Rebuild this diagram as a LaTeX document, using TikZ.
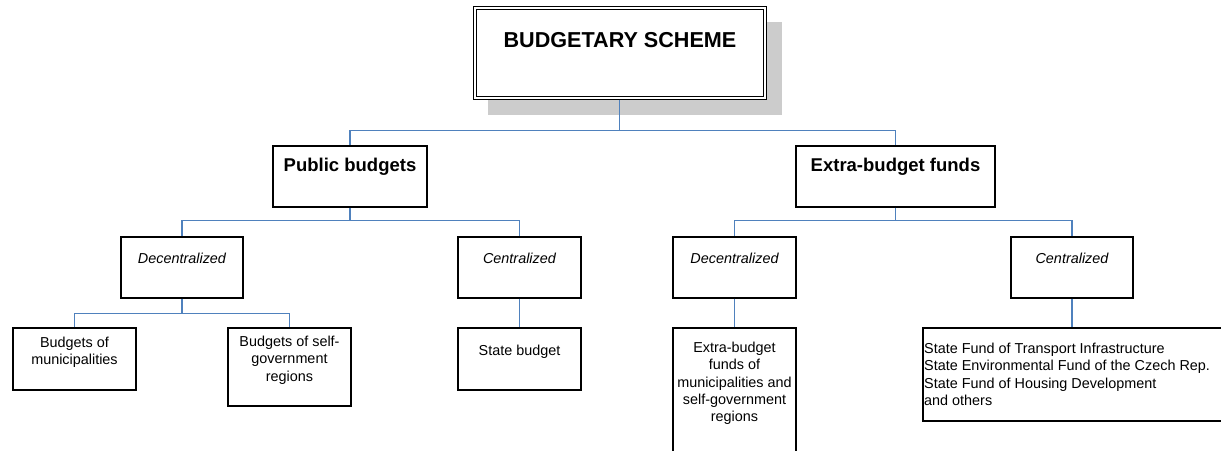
\documentclass[tikz,border=0pt]{standalone}
\usepackage{fontspec}
\setmainfont{Liberation Sans}
\definecolor{connblue}{RGB}{79,129,189}
\definecolor{shadowgray}{RGB}{204,204,204}
\begin{document}
\begin{tikzpicture}[x=1pt,y=-1pt,
  box/.style={draw=black, line width=1.1pt, rectangle, inner sep=0pt, fill=white},
  conn/.style={draw=connblue, line width=1.2pt},
  lbl/.style={anchor=north, inner sep=0pt, align=center, font=\fontsize{14.4}{17.2}\selectfont},
  ilbl/.style={lbl, font=\fontsize{14.4}{17.2}\selectfont\itshape},
  blbl/.style={lbl, font=\fontsize{18.5}{21}\selectfont\bfseries},
  tlbl/.style={lbl, font=\fontsize{21.6}{25}\selectfont\bfseries}]
\clip (0,0) rectangle (1221,450);
\fill[white] (0,0) rectangle (1221,450);
% title
\fill[shadowgray] (488,22) rectangle (782,115);
\node[box, line width=1pt, minimum width=293pt, minimum height=93pt] (top) at (619.5,52.5) {};
\draw[line width=1pt] ([shift={(3.5,3.5)}]top.north west) rectangle ([shift={(-3.5,-3.5)}]top.south east);
\node[tlbl] (ttop) at (620,32.2) {BUDGETARY SCHEME};
% level 1
\node[box, minimum width=154pt, minimum height=61pt] (pb) at (350,176.5) {};
\node[blbl] (tpb) at (350,157.4) {Public budgets};
\node[box, minimum width=199pt, minimum height=61pt] (eb) at (895.5,176.5) {};
\node[blbl] (teb) at (895.5,157.4) {Extra-budget funds};
% level 2
\node[box, minimum width=122pt, minimum height=61pt] (pd) at (182,267.5) {};
\node[ilbl] (tpd) at (182,253) {Decentralized};
\node[box, minimum width=123pt, minimum height=61pt] (pc) at (519.5,267.5) {};
\node[ilbl] (tpc) at (519.5,253) {Centralized};
\node[box, minimum width=123pt, minimum height=61pt] (ed) at (734.5,267.5) {};
\node[ilbl] (ted) at (734.5,253) {Decentralized};
\node[box, minimum width=122pt, minimum height=61pt] (ec) at (1072,267.5) {};
\node[ilbl] (tec) at (1072,253) {Centralized};
% level 3
\node[box, minimum width=123pt, minimum height=62pt] (bm) at (74.5,359) {};
\node[lbl] (tbm) at (74.5,337) {Budgets of\\municipalities};
\node[box, minimum width=123pt, minimum height=78pt] (bs) at (289.5,367) {};
\node[lbl] (tbs) at (289.5,336) {Budgets of self-\\government\\regions};
\node[box, minimum width=123pt, minimum height=62pt] (sb) at (519.5,359) {};
\node[lbl] (tsb) at (519.5,345) {State budget};
\node[box, minimum width=123pt, minimum height=132pt] (ef) at (734.5,394) {};
\node[lbl] (tef) at (734.5,342) {Extra-budget\\funds of\\municipalities and\\self-government\\regions};
\node[box, minimum width=302pt, minimum height=93pt] (sf) at (1074,374.5) {};
\node[lbl, align=left, anchor=north west] (tsf) at (924,343) {State Fund of Transport Infrastructure\\State Environmental Fund of the Czech Rep.\\State Fund of Housing Development\\and others};
% connectors
\draw[conn] (top.south) -- ++(0,31) coordinate (j1) -| (pb.north);
\draw[conn] (j1) -| (eb.north);
\draw[conn] (pb.south) -- ++(0,13) coordinate (j2) -| (pd.north);
\draw[conn] (j2) -| (pc.north);
\draw[conn] (eb.south) -- ++(0,13) coordinate (j3) -| (ed.north);
\draw[conn] (j3) -| (ec.north);
\draw[conn] (pd.south) -- ++(0,15) coordinate (j4) -| (bm.north);
\draw[conn] (j4) -| (bs.north);
\draw[conn] (pc.south) -- (sb.north);
\draw[conn] (ed.south) -- (ef.north);
\draw[conn] (ec.south) -- (ec.south |- sf.north);
\end{tikzpicture}
\end{document}
